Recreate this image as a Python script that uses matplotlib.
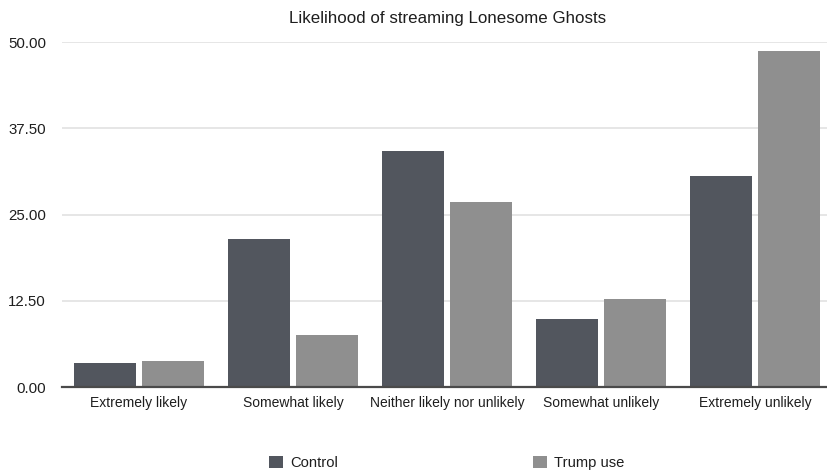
import matplotlib.pyplot as plt
import numpy as np

plt.rcParams['font.family'] = ['Liberation Sans', 'DejaVu Sans']

# Data
categories = ['Extremely likely', 'Somewhat likely', 'Neither likely nor unlikely',
              'Somewhat unlikely', 'Extremely unlikely']
control = [3.5, 21.5, 34.2, 9.85, 30.6]
trump_use = [3.8, 7.55, 26.9, 12.75, 48.7]
y_ticks = [0, 12.5, 25, 37.5, 50]

W, H = 828, 475
fig = plt.figure(figsize=(W / 100, H / 100), dpi=100)
# axes span past the right edge, like the reference
ax = fig.add_axes([62 / W, (H - 387.3) / H, 770 / W, 345.3 / H])

x = np.arange(len(categories))
bw = 0.4
ax.bar(x - 0.22, control, width=bw, color='#52565e', label='Control', zorder=3)
ax.bar(x + 0.22, trump_use, width=bw, color='#8f8f8f', label='Trump use', zorder=3)

ax.set_xlim(-0.5, len(categories) - 0.5)
ax.set_ylim(0, 50)
ax.set_yticks(y_ticks)
ax.set_yticklabels([f'{v:.2f}' for v in y_ticks])
ax.set_xticks(x)
ax.set_xticklabels(categories)

ax.grid(axis='y', color='#e2e2e2', linewidth=1.2, zorder=0)
ax.set_axisbelow(True)
for s in ['top', 'right', 'left']:
    ax.spines[s].set_visible(False)
ax.spines['bottom'].set_color('#4a4a4a')
ax.spines['bottom'].set_linewidth(1.6)
ax.spines['bottom'].set_zorder(4)
ax.tick_params(axis='both', length=0, colors='#1e1e1e')
ax.tick_params(axis='x', labelsize=10, pad=6)
ax.tick_params(axis='y', labelsize=10.8, pad=11.5)

fig.text(448 / W, (H - 19) / H, 'Likelihood of streaming Lonesome Ghosts',
         ha='center', va='center', fontsize=12.2, color='#1e1e1e')

fig.legend(loc='center', bbox_to_anchor=(447 / W, 12 / H), ncol=2, frameon=False,
           fontsize=10.6, handlelength=0.95, handleheight=0.9, handletextpad=0.5,
           columnspacing=13.2, labelcolor='#1e1e1e')

plt.savefig('out.png', dpi=100)
